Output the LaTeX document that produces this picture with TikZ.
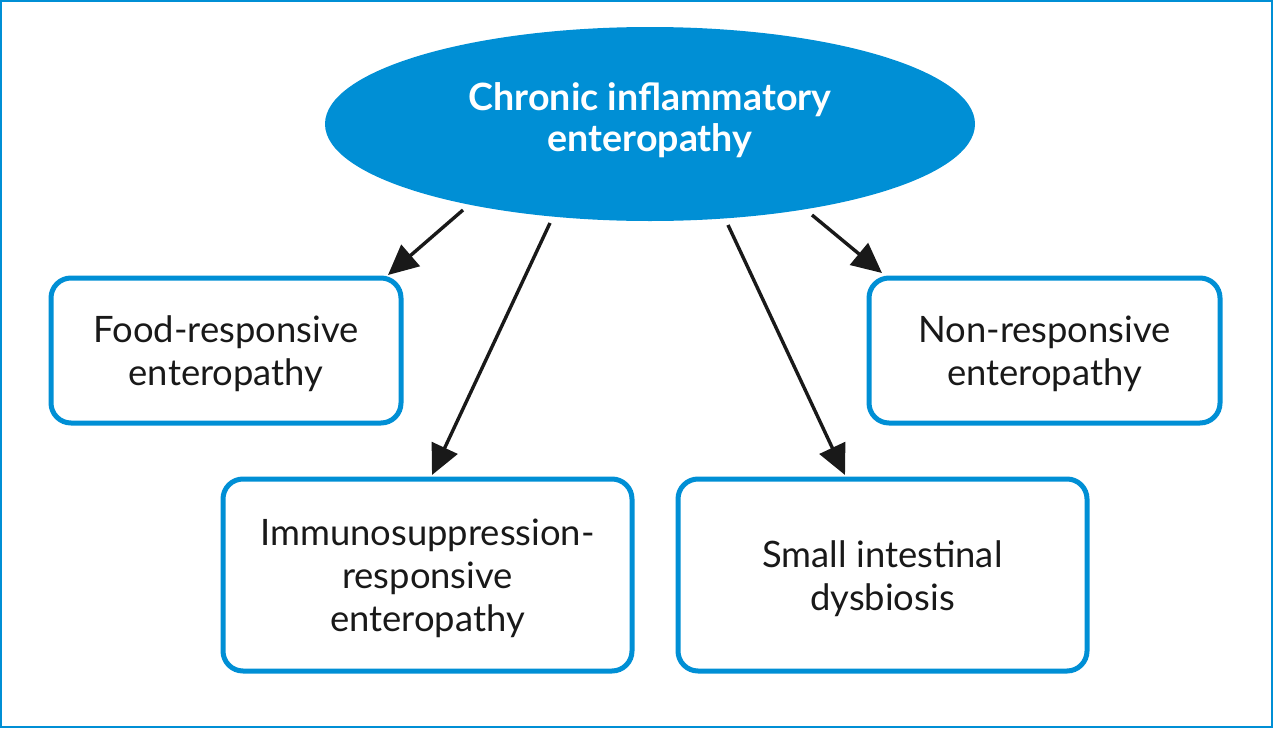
\documentclass[tikz,border=0pt]{standalone}
\usepackage{fontspec}
\setmainfont{Lato}
\usetikzlibrary{arrows.meta,shapes.geometric}
\definecolor{cieblue}{RGB}{0,143,213}
\newcommand{\boxtext}[1]{\raisebox{-2.5pt}[\height][\depth]{\begin{tabular}{@{}c@{}}#1\end{tabular}}}
\begin{document}
\begin{tikzpicture}[x=0.5pt,y=-0.5pt,
  box/.style={draw=cieblue,line width=2.5pt,rounded corners=10pt,fill=white,align=center,
    font=\fontsize{18.2}{21.5}\selectfont,text=black!90,inner sep=0pt},
  arr/.style={draw=black!90,line width=1.7pt,-{Triangle[length=15pt,width=14pt]}}]
\useasboundingbox (0,0) rectangle (1273,728);
\draw[cieblue,line width=1.2pt] (1,1) rectangle (1272,727);
\node[ellipse,fill=cieblue,minimum width=325pt,minimum height=97pt,inner sep=0pt] (ell) at (650,124) {};
\node[text=white,align=center,font=\bfseries\fontsize{18.8}{20.5}\selectfont] (title) at (650,120) {Chronic inflammatory\\enteropathy};
\node[box,minimum width=175pt,minimum height=72.5pt] (food) at (226,350.5) {\boxtext{Food-responsive\\enteropathy}};
\node[box,minimum width=175.5pt,minimum height=72.5pt] (non) at (1044.5,350.5) {\boxtext{Non-responsive\\enteropathy}};
\node[box,minimum width=204.5pt,minimum height=96pt] (imm) at (427.5,575) {\boxtext{Immunosuppression-\\responsive\\enteropathy}};
\node[box,minimum width=204.5pt,minimum height=96pt] (sid) at (882.5,575) {\boxtext{Small intestinal\\dysbiosis}};
\coordinate (s1) at (463,210); \coordinate (e1) at (388,275);
\coordinate (s2) at (550,223); \coordinate (e2) at (432,475);
\coordinate (s3) at (728,225); \coordinate (e3) at (845,475);
\coordinate (s4) at (812,215); \coordinate (e4) at (882,273);
\draw[arr] (s1) -- (e1);
\draw[arr] (s2) -- (e2);
\draw[arr] (s3) -- (e3);
\draw[arr] (s4) -- (e4);
\end{tikzpicture}
\end{document}
